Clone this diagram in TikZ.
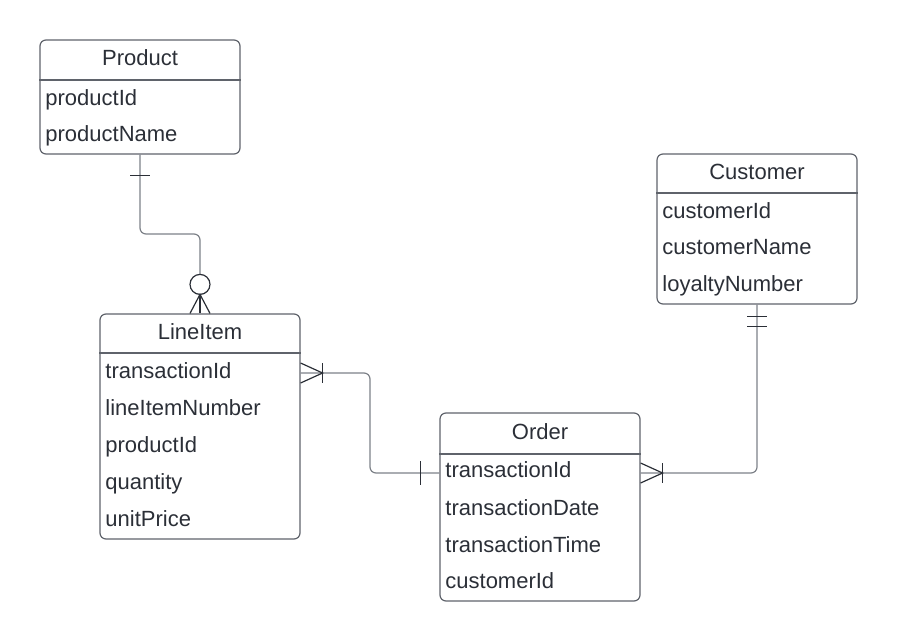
\documentclass[tikz,border=0pt]{standalone}
\usepackage{fontspec}
\setmainfont{Liberation Sans}
\usepackage{xcolor}
\definecolor{boxgray}{HTML}{5F636B}
\definecolor{linegray}{HTML}{7D8188}
\definecolor{inkdark}{HTML}{2B2F37}
\usepackage{tikz}
\usetikzlibrary{positioning, calc}
\tikzstyle{entity}=[rectangle, rounded corners=3pt, minimum width=100pt, draw=boxgray, line width=0.6pt, inner sep=0pt]
\tikzstyle{title}=[text=inkdark, font=\fontsize{11}{13}\selectfont, inner sep=0pt, text height=8pt, text depth=2.4pt, yshift=-1pt]
\tikzstyle{attr}=[title, anchor=west]
\tikzstyle{link}=[draw=linegray, line width=0.6pt, rounded corners=3pt]
\tikzstyle{tick}=[draw=inkdark, line width=0.6pt]

\begin{document}
\begin{tikzpicture}[x=0.5pt, y=-0.5pt]
	\useasboundingbox (0,0) rectangle (898,642);
	% entities
	\node[entity, minimum height=57pt] (product) at (140,97) {};
	\node[entity, minimum height=75pt] (customer) at (757,229) {};
	\node[entity, minimum height=112.5pt] (lineitem) at (200,426.5) {};
	\node[entity, minimum height=94pt] (order) at (540,507) {};
	% headers
	\node[title] (productTitle) at (140,58) {Product};
	\draw[draw=boxgray, line width=0.6pt] (product.west |- 0,80) -- (product.east |- 0,80);
	\node[title] (customerTitle) at (757,172) {Customer};
	\draw[draw=boxgray, line width=0.6pt] (customer.west |- 0,193) -- (customer.east |- 0,193);
	\node[title] (lineitemTitle) at (200,332) {LineItem};
	\draw[draw=boxgray, line width=0.6pt] (lineitem.west |- 0,353) -- (lineitem.east |- 0,353);
	\node[title] (orderTitle) at (540,432) {Order};
	\draw[draw=boxgray, line width=0.6pt] (order.west |- 0,454) -- (order.east |- 0,454);
	% attributes
	\node[attr] (prodId) at (45,98) {productId};
	\node[attr] (prodName) at (45,134) {productName};
	\node[attr] (custId) at (662,211) {customerId};
	\node[attr] (custName) at (662,247) {customerName};
	\node[attr] (custLoyalty) at (662,284) {loyaltyNumber};
	\node[attr] (liTransId) at (105,371) {transactionId};
	\node[attr] (liNumber) at (105,408) {lineItemNumber};
	\node[attr] (liProdId) at (105,445) {productId};
	\node[attr] (liQty) at (105,482) {quantity};
	\node[attr] (liPrice) at (105,519) {unitPrice};
	\node[attr] (ordTransId) at (445,470) {transactionId};
	\node[attr] (ordDate) at (445,508) {transactionDate};
	\node[attr] (ordTime) at (445,545) {transactionTime};
	\node[attr] (ordCustId) at (445,581) {customerId};
	% connectors
	\coordinate (liPort) at ($(lineitem.east |- liTransId)+(0,0)$);
	\coordinate (ordPortW) at ($(order.west |- ordTransId)+(0,1)$);
	\coordinate (ordPortE) at ($(order.east |- ordTransId)+(0,1)$);
	\draw[link] (product.south) |- ($(product.south)!.5!(lineitem.north)$) -| (lineitem.north);
	\draw[link] (liPort) -| ($(liPort)!.5!(ordPortW)$) |- (ordPortW);
	\draw[link] (customer.south) |- (ordPortE);
	% product 1 -- lineitem 0..n
	\draw[tick] ($(product.south)+(-10,21)$) -- ++(20,0);
	\draw[tick, fill=white] ($(lineitem.north)+(0,-29)$) circle (5pt);
	\draw[tick] ($(lineitem.north)+(-10,0)$) -- ($(lineitem.north)+(0,-19)$) -- ($(lineitem.north)+(10,0)$);
	\draw[tick] ($(lineitem.north)+(0,-19)$) -- (lineitem.north);
	% lineitem 1..n -- order 1
	\draw[tick] ($(liPort)+(0,-10)$) -- ($(liPort)+(22,0)$) -- ($(liPort)+(0,10)$);
	\draw[tick] ($(liPort)+(22,-10)$) -- ++(0,20);
	\draw[tick] ($(ordPortW)+(-19,-12)$) -- ++(0,24);
	% order 1..n -- customer 1
	\draw[tick] ($(ordPortE)+(0,-10)$) -- ($(ordPortE)+(22,0)$) -- ($(ordPortE)+(0,10)$);
	\draw[tick] ($(ordPortE)+(22,-10)$) -- ++(0,20);
	\draw[tick] ($(customer.south)+(-10,12)$) -- ++(20,0);
	\draw[tick] ($(customer.south)+(-10,22)$) -- ++(20,0);
\end{tikzpicture}
\end{document}
